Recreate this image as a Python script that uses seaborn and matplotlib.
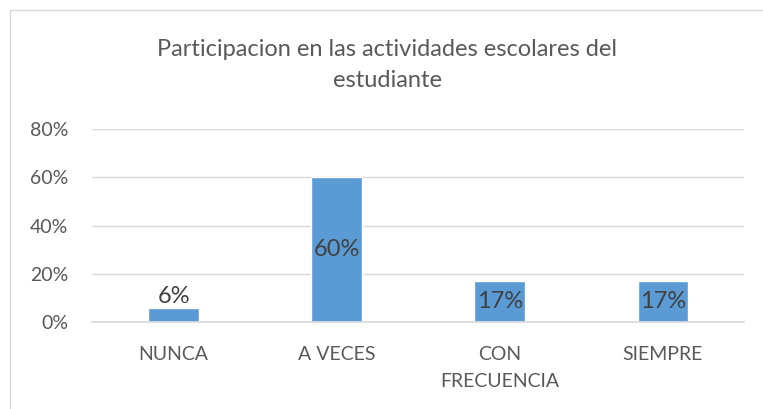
import matplotlib
matplotlib.use("Agg")
import matplotlib.pyplot as plt
import seaborn as sns
import pandas as pd
from matplotlib.lines import Line2D

categorias = ["NUNCA", "A VECES", "CON\nFRECUENCIA", "SIEMPRE"]
valores = [0.06, 0.60, 0.17, 0.17]
etiquetas = ["6%", "60%", "17%", "17%"]
ticks_y = [0, 0.2, 0.4, 0.6, 0.8]

sns.set_theme(style="white")
plt.rcParams['font.family'] = ['Lato', 'DejaVu Sans']

df = pd.DataFrame({"categoria": categorias, "valor": valores})

fig = plt.figure(figsize=(7.63, 4.09), dpi=100)
ax = fig.add_axes([0.1206, 0.2127, 0.855, 0.4719])

sns.barplot(data=df, x="categoria", y="valor", color="#5B9BD5",
            width=0.31, saturation=1, ax=ax)

ax.set_ylim(0, 0.8)
ax.set_yticks(ticks_y)
ax.set_yticklabels([f"{int(t*100)}%" for t in ticks_y])
ax.yaxis.grid(True, color="#D9D9D9", linewidth=1)
ax.set_axisbelow(True)
for s in ["top", "right", "left"]:
    ax.spines[s].set_visible(False)
ax.spines["bottom"].set_color("#D9D9D9")
ax.set_xlabel("")
ax.set_ylabel("")
ax.tick_params(axis="both", colors="#595959", labelsize=14, length=0)
ax.tick_params(axis="y", pad=17)
ax.tick_params(axis="x", pad=17)
for t in ax.get_xticklabels():
    t.set_linespacing(1.75)
ax.set_xlim(-0.5, 3.5)

# etiquetas de datos
for i, (v, lab) in enumerate(zip(valores, etiquetas)):
    if v < 0.1:
        ax.text(i, v + 0.003, lab, ha="center", va="bottom", fontsize=17, color="#404040")
    else:
        ax.text(i, v / 2, lab, ha="center", va="center", fontsize=17, color="#404040")

fig.text(387 / 763, 1 - 65 / 409, "Participacion en las actividades escolares del\nestudiante",
         ha="center", va="center", fontsize=17, color="#595959", linespacing=1.6)

# borde del grafico (solo arriba e izquierda visibles)
x0, y0 = 10 / 763, 1 - 10 / 409
fig.lines.append(Line2D([x0, 1], [y0, y0], transform=fig.transFigure, color="#D9D9D9", linewidth=1))
fig.lines.append(Line2D([x0, x0], [0, y0], transform=fig.transFigure, color="#D9D9D9", linewidth=1))

fig.savefig("out.png", dpi=100)
